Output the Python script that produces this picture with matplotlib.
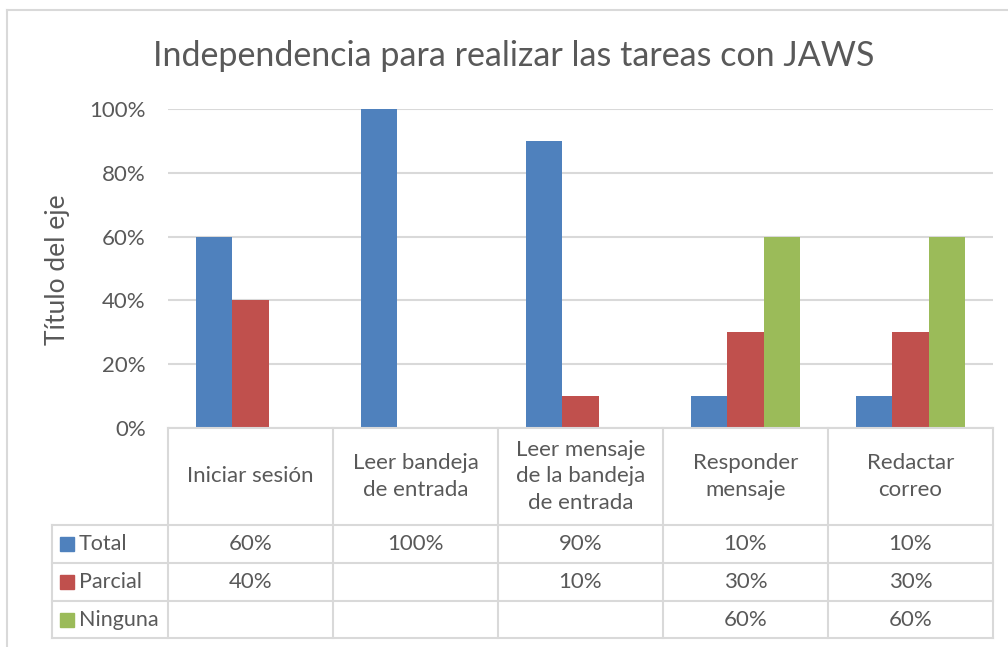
import numpy as np
import matplotlib
matplotlib.use("Agg")
import matplotlib.pyplot as plt
from matplotlib.lines import Line2D
from matplotlib.patches import Rectangle

# Datos
categorias = ["Iniciar sesión", "Leer bandeja\nde entrada",
              "Leer mensaje\nde la bandeja\nde entrada",
              "Responder\nmensaje", "Redactar\ncorreo"]
series = ["Total", "Parcial", "Ninguna"]
total = [0.60, 1.00, 0.90, 0.10, 0.10]
parcial = [0.40, None, 0.10, 0.30, 0.30]
ninguna = [None, None, None, 0.60, 0.60]
colores = ["#4F81BD", "#C0504D", "#9BBB59"]

plt.rcParams['font.family'] = ['Lato', 'DejaVu Sans']
gris_txt = "#595959"
gris_lin = "#D9D9D9"

W, H = 1008, 647
fig = plt.figure(figsize=(W / 100, H / 100), dpi=100)

def px(x, y):
    return x / W, 1 - y / H

# marco del gráfico
fig.add_artist(Line2D([7 / W, 7 / W], [0, 1 - 10 / H], color=gris_lin, lw=1.5))
fig.add_artist(Line2D([7 / W, 1], [1 - 10 / H, 1 - 10 / H], color=gris_lin, lw=1.5))

# área de trazado
x0, x1, y0, y1 = 168, 993, 428, 109
ax = fig.add_axes([x0 / W, 1 - y0 / H, (x1 - x0) / W, (y0 - y1) / H])
n = len(categorias)
idx = np.arange(n)
ancho = 0.22
for k, datos in enumerate([total, parcial, ninguna]):
    vals = [v if v is not None else 0 for v in datos]
    ax.bar(idx + (k - 1) * ancho, vals, width=ancho, color=colores[k],
           edgecolor="none", zorder=3)
ax.set_xlim(-0.5, n - 0.5)
ax.set_ylim(0, 1)
ticks = np.arange(0, 1.01, 0.2)
ax.set_yticks(ticks)
ax.set_yticklabels([f"{int(round(t * 100))}%" for t in ticks])
ax.tick_params(axis="y", length=0, pad=16, labelsize=16, labelcolor=gris_txt)
ax.set_xticks([])
ax.grid(axis="y", color=gris_lin, lw=1.5, zorder=0)
for s in ax.spines.values():
    s.set_visible(False)

fig.text(*px(58, 270), "Título del eje", rotation=90, ha="center", va="center",
         fontsize=19, color=gris_txt)
fig.text(*px(514, 56), "Independencia para realizar las tareas con JAWS",
         ha="center", va="center", fontsize=24.5, color=gris_txt)

# tabla de datos
filas_y = [428, 525, 563, 601, 638]
cols_x = [x0 + i * (x1 - x0) / n for i in range(n + 1)]
lx = 52
fig.add_artist(Line2D(*zip(px(x0, filas_y[0]), px(x1, filas_y[0])), color=gris_lin, lw=1.5))
for yy in filas_y[1:]:
    fig.add_artist(Line2D(*zip(px(lx, yy), px(x1, yy)), color=gris_lin, lw=1.5))
for xx in cols_x:
    fig.add_artist(Line2D(*zip(px(xx, filas_y[0]), px(xx, filas_y[-1])), color=gris_lin, lw=1.5))
fig.add_artist(Line2D(*zip(px(lx, filas_y[1]), px(lx, filas_y[-1])), color=gris_lin, lw=1.5))

for i, cat in enumerate(categorias):
    cx = (cols_x[i] + cols_x[i + 1]) / 2
    cy = (filas_y[0] + filas_y[1]) / 2
    fig.text(*px(cx, cy), cat, ha="center", va="center", fontsize=16,
             color=gris_txt, linespacing=1.4)

for k, (nombre, datos) in enumerate(zip(series, [total, parcial, ninguna])):
    cy = (filas_y[k + 1] + filas_y[k + 2]) / 2
    fig.add_artist(Rectangle(px(60, cy + 7), 14 / W, 14 / H, color=colores[k],
                             transform=fig.transFigure))
    fig.text(*px(79, cy), nombre, ha="left", va="center", fontsize=15.5, color=gris_txt)
    for i, v in enumerate(datos):
        if v is None:
            continue
        cx = (cols_x[i] + cols_x[i + 1]) / 2
        fig.text(*px(cx, cy), f"{int(round(v * 100))}%", ha="center",
                 va="center", fontsize=16, color=gris_txt)

fig.savefig("out.png", dpi=100, facecolor="white")
